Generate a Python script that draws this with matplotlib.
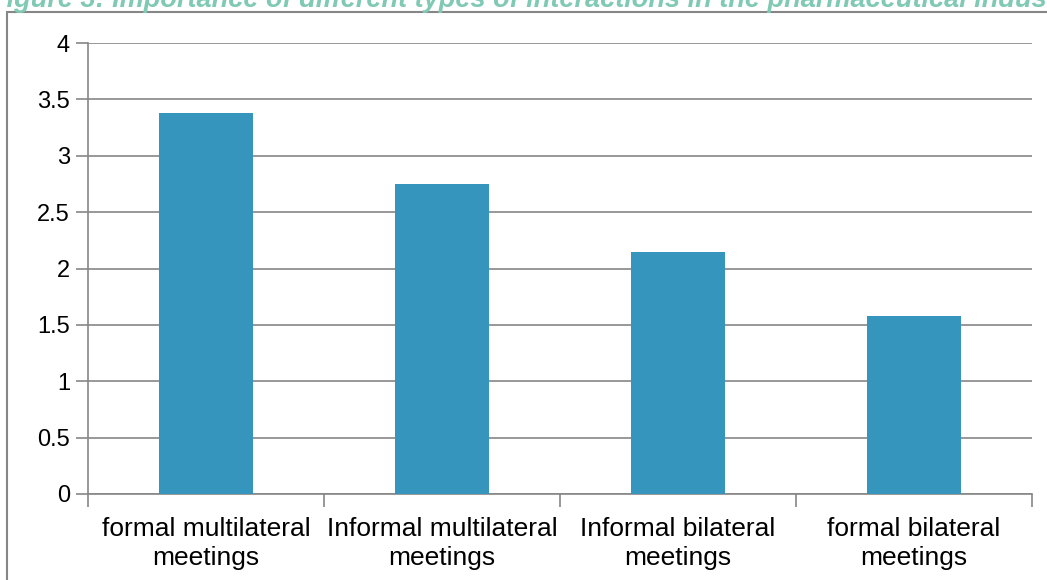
import matplotlib
matplotlib.use("Agg")
import matplotlib.pyplot as plt
from matplotlib.patches import Rectangle

categories = ["formal multilateral\nmeetings", "Informal multilateral\nmeetings",
              "Informal bilateral\nmeetings", "formal bilateral\nmeetings"]
values = [3.38, 2.75, 2.15, 1.58]
yticks = [0, 0.5, 1, 1.5, 2, 2.5, 3, 3.5, 4]
ytick_labels = ["0", "0.5", "1", "1.5", "2", "2.5", "3", "3.5", "4"]
title = "Figure 3: Importance of different types of interactions in the pharmaceutical industry"

W, H = 1047, 580
fig = plt.figure(figsize=(W / 100, H / 100), dpi=100)
fig.patch.set_facecolor("white")

# outer chart border
fig.patches.append(Rectangle((7 / W, -0.1), 1.2, (H - 12) / H + 0.1, transform=fig.transFigure,
                             fill=False, edgecolor="#868686", linewidth=1.5, zorder=0))

fig.text(-10 / W, 1 - 7 / H, title, color="#80c9b4", fontsize=19.5, fontweight="bold",
         fontstyle="italic", ha="left", va="baseline", family=["Liberation Sans"])

ax = fig.add_axes([88 / W, 1 - 494 / H, (1032 - 88) / W, (494 - 43) / H])
x = list(range(len(categories)))
ax.bar(x, values, width=0.4, color="#3595bd", zorder=3)
ax.set_xlim(-0.5, len(categories) - 0.5)
ax.set_ylim(0, 4)
ax.set_yticks(yticks)
ax.set_yticklabels(ytick_labels, fontsize=17, family=["Liberation Sans"])
ax.yaxis.grid(True, color="#868686", linewidth=1.2, zorder=0)
ax.set_axisbelow(True)
for s in ["top", "right"]:
    ax.spines[s].set_visible(False)
ax.spines["left"].set_color("#868686")
ax.spines["bottom"].set_color("#868686")
ax.spines["left"].set_linewidth(1.2)
ax.spines["bottom"].set_linewidth(1.2)
ax.tick_params(axis="y", length=9, color="#868686", width=1.2, pad=4)
ax.set_xticks([-0.5, 0.5, 1.5, 2.5, 3.5])
ax.set_xticklabels([])
ax.tick_params(axis="x", length=9, color="#868686", width=1.2)
for xi, lab in zip(x, categories):
    ax.text(xi, -0.2, lab, ha="center", va="top", fontsize=19, linespacing=1.3,
            family=["Liberation Sans"], transform=ax.transData, clip_on=False)

fig.savefig("out.png", dpi=100)
